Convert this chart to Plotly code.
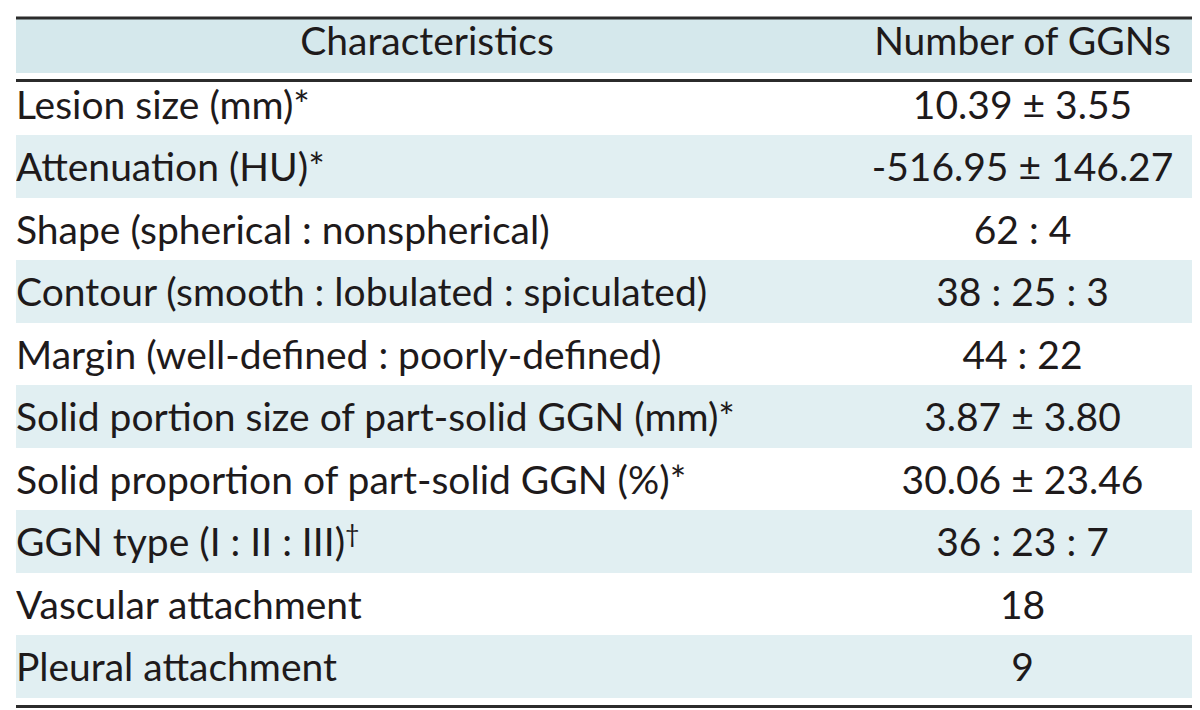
import plotly.graph_objects as go

# ---- data ----
header_labels = ["Characteristics", "Number of GGNs"]
characteristics = [
    "Lesion size (mm)*",
    "Attenuation (HU)*",
    "Shape (spherical : nonspherical)",
    "Contour (smooth : lobulated : spiculated)",
    "Margin (well-defined : poorly-defined)",
    "Solid portion size of part-solid GGN (mm)*",
    "Solid proportion of part-solid GGN (%)*",
    "GGN type (I : II : III)†",
    "Vascular attachment",
    "Pleural attachment",
]
number_of_ggns = [
    "10.39 ± 3.55",
    "-516.95 ± 146.27",
    "62 : 4",
    "38 : 25 : 3",
    "44 : 22",
    "3.87 ± 3.80",
    "30.06 ± 23.46",
    "36 : 23 : 7",
    "18",
    "9",
]

# ---- style ----
W, H = 1200, 710
table_left_px = 0          # table starts at the page edge; a white strip masks the first 8 px
fill_left_px, right_px = 8, 1191
top_px = 10
row_h = 62.5
header_h = 54.5            # plotly adds ~8 px to the header row
col_widths = [838, 353]
header_fill = "#d5e8ec"
shade_fill = "#e1eff2"
text_color = "#1e1a1b"
rule_color = "#2b2b2b"
font_family = "Lato, Noto Sans, sans-serif"
font_size = 39


def fmt_cell(s):
    # a trailing <br> switches off the table's auto-wrapping (every body cell handled the same way)
    s = s.replace("†", '<span style="font-size:25px;baseline-shift:13px">†</span>')
    return s + "<br>"


def fmt_header(s):
    return s.replace(" ", "\u00a0")


n = len(characteristics)
row_fills = ["white" if i % 2 == 0 else shade_fill for i in range(n)]
bottom_px = top_px + row_h * (n + 1)

fig = go.Figure(
    go.Table(
        columnwidth=col_widths,
        domain=dict(x=[table_left_px / W, right_px / W],
                    y=[1 - (bottom_px + 4) / H, 1 - top_px / H]),
        header=dict(
            values=[fmt_header(h) for h in header_labels],
            fill_color=header_fill,
            align=["center", "center"],
            font=dict(family=font_family, size=font_size, color=text_color),
            height=header_h,
            line=dict(width=0, color=header_fill),
        ),
        cells=dict(
            values=[[fmt_cell(c) for c in characteristics], [fmt_cell(v) for v in number_of_ggns]],
            fill_color=[row_fills, row_fills],
            align=["left", "center"],
            font=dict(family=font_family, size=font_size, color=text_color),
            height=row_h,
            line=dict(width=0, color="white"),
        ),
    )
)

# white strip so the shaded rows start 8 px in from the left, as in the reference
fig.add_shape(type="rect", xref="paper", yref="paper", layer="above",
              x0=0, x1=fill_left_px / W, y0=0, y1=1,
              fillcolor="white", line=dict(width=0))

for y_px in [top_px, top_px + row_h, bottom_px + 1]:
    yf = 1 - y_px / H
    fig.add_shape(type="line", xref="paper", yref="paper",
                  x0=fill_left_px / W, x1=right_px / W, y0=yf, y1=yf,
                  line=dict(color=rule_color, width=3))

fig.update_layout(
    width=W, height=H,
    margin=dict(l=0, r=0, t=0, b=0),
    paper_bgcolor="white",
    plot_bgcolor="white",
)

fig.write_html("out.html")
